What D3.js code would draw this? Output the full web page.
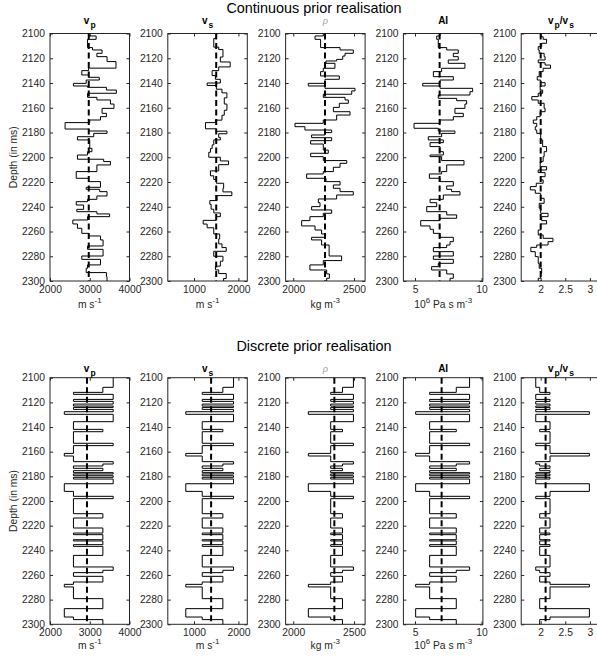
<!DOCTYPE html>
<html>
<head>
<meta charset="utf-8">
<script src="https://cdn.jsdelivr.net/npm/d3@7"></script>
<style>
  body { margin: 0; background: #fff; }
  text { font-family: "Liberation Sans", Arial, sans-serif; }
</style>
</head>
<body>
<div id="chart"></div>
<script>
// ---- continuous realisation: [layer top (ms), value] ----
var contVp = [[2100,2970],[2102,3160],[2104.7,2945],[2111.4,3070],[2113.3,3310],[2116,3180],[2118.7,3435],[2122.7,3660],[2128,2970],[2130,2800],[2133.5,2970],[2135.4,3240],[2137.6,2910],[2140.3,2590],[2142.4,2945],[2143.5,3420],[2145.7,3670],[2148.3,2945],[2151.6,3180],[2153.7,3520],[2157,3610],[2160.5,3310],[2164.5,3420],[2167.2,3270],[2169.9,3000],[2172,2380],[2177.2,2970],[2178.8,3435],[2180.7,3100],[2183.4,2690],[2186,3000],[2192.8,3055],[2195.5,2945],[2198.2,2690],[2201.6,3350],[2203.5,3520],[2206.2,3180],[2211.6,2660],[2217,2970],[2219.7,3270],[2224.3,2910],[2225.9,3250],[2227.8,3435],[2231.3,3180],[2234,2945],[2235.9,2660],[2238.6,2845],[2242.1,2675],[2244,3180],[2245.8,3500],[2248,2945],[2250.7,2575],[2253.9,2690],[2257.4,2800],[2261.5,2970],[2263.6,3270],[2266.8,3335],[2271.7,2945],[2274.4,3335],[2279.8,2800],[2282.5,3270],[2287,2945],[2289.7,2910],[2293.2,3420],[2296.5,3435]];

var contVs = [[2100,1500],[2104,1445],[2111,1556],[2113,1652],[2119,1593],[2123,1815],[2127,1556],[2130,1408],[2134,1482],[2137,1593],[2140,1296],[2142,1504],[2145,1630],[2148,1741],[2152,1682],[2157,1741],[2162,1682],[2166,1630],[2170,1482],[2172,1259],[2177,1504],[2179,1741],[2181,1556],[2184,1593],[2186,1445],[2190,1408],[2193,1370],[2196,1333],[2200,1593],[2203,1778],[2206,1556],[2211,1370],[2215,1445],[2218,1504],[2221,1667],[2225,1652],[2228,1852],[2231,1519],[2235,1356],[2238,1385],[2242,1445],[2245,1593],[2248,1504],[2251,1207],[2254,1296],[2257,1445],[2262,1578],[2266,1556],[2270,1630],[2273,1726],[2276,1445],[2280,1652],[2284,1593],[2288,1482],[2291,1556],[2294,1726],[2298,1667]];

var contRho = [[2100,2247],[2102,2179],[2104.7,2225],[2111.4,2385],[2113.3,2494],[2116,2426],[2118.2,2407],[2120.9,2357],[2122.2,2269],[2124.1,2343],[2128.1,2247],[2130.8,2225],[2134.3,2379],[2137,2261],[2140.3,2124],[2142.4,2261],[2144.3,2508],[2146.4,2481],[2149.1,2247],[2151.6,2426],[2153.7,2453],[2156.4,2379],[2159.7,2330],[2163.2,2467],[2165.9,2357],[2169.9,2247],[2172.6,2014],[2175.3,2096],[2178,2316],[2180.1,2261],[2182,2151],[2184.2,2316],[2186.6,2143],[2189.3,2247],[2194.2,2288],[2196.8,2143],[2199.5,2247],[2202.7,2440],[2204.9,2385],[2208.1,2330],[2211.6,2247],[2213.5,2110],[2217,2269],[2219.7,2385],[2222.4,2330],[2225.1,2385],[2227.8,2494],[2230.5,2357],[2233.7,2206],[2236.7,2220],[2239.9,2151],[2242.6,2316],[2245.3,2247],[2248,2137],[2251.2,2069],[2255.5,2179],[2258.8,2233],[2262,2261],[2264.7,2151],[2266.8,2233],[2270.9,2295],[2279.8,2398],[2283.5,2247],[2287,2137],[2291.1,2275],[2294.3,2297],[2297.8,2275]];

var contAi = [[2100,6.88],[2102,6.63],[2104.7,6.75],[2111.4,7.38],[2113.3,8.25],[2116,7.88],[2118.7,8.25],[2121.4,7.5],[2124.1,8.75],[2128.1,7.0],[2130.8,6.38],[2134.9,7.88],[2137.6,6.88],[2140.3,5.58],[2142.4,6.88],[2144.3,9.33],[2147,9.13],[2149.7,6.75],[2152.4,8.13],[2154.3,8.88],[2157,8.75],[2160.5,8.0],[2164.5,8.63],[2167.2,7.88],[2169.9,6.88],[2172.6,4.93],[2176.6,6.75],[2178.8,8.0],[2180.7,7.0],[2183.4,6.0],[2186,7.13],[2188.2,6.13],[2191.4,6.88],[2195.5,7.13],[2198.2,6.13],[2199.5,7.0],[2202.7,8.68],[2206.2,7.38],[2211.6,7.0],[2213.5,6.08],[2217,6.88],[2219.7,7.88],[2223.2,7.38],[2225.9,7.75],[2227.8,8.38],[2230.5,7.13],[2234,6.13],[2236.7,6.63],[2239.9,5.88],[2244,7.38],[2246.6,8.13],[2249.3,6.88],[2251.2,5.43],[2255.5,6.13],[2258.2,6.38],[2261.5,6.88],[2264.7,7.88],[2268.2,7.63],[2270.9,7.38],[2273,6.38],[2276.3,7.88],[2279.8,6.38],[2282.5,7.88],[2285.7,6.75],[2288.4,6.25],[2291.1,7.38],[2294.3,7.88],[2297.8,7.63]];

var contVpVs = [[2100,2.0],[2102.6,2.05],[2104.7,2.12],[2107.9,2.02],[2110.6,1.95],[2113.3,1.97],[2116,2.07],[2118.7,2.09],[2121.4,1.95],[2123.6,2.09],[2125.5,2.2],[2128.1,2.05],[2130.8,1.97],[2134.9,1.93],[2137.6,2.0],[2139.7,2.09],[2142.4,1.99],[2145.7,2.04],[2148.3,1.95],[2151,1.82],[2153.7,1.95],[2156.4,2.07],[2160.5,2.09],[2163.2,1.99],[2167.2,1.92],[2169.9,1.85],[2172.6,1.92],[2175.3,1.89],[2178,1.92],[2180.7,2.0],[2186,2.04],[2191.4,2.12],[2195.5,2.07],[2199.5,2.05],[2203.5,1.99],[2207.6,2.12],[2210.3,1.95],[2212.4,2.09],[2215.7,2.0],[2218.3,2.05],[2221,1.91],[2223.7,1.79],[2226.4,1.89],[2229.1,2.0],[2233.2,2.07],[2237.2,1.97],[2241.2,2.0],[2245.3,2.15],[2248,2.02],[2251.2,2.12],[2253.9,2.0],[2258.8,1.95],[2262.8,2.05],[2265.5,2.25],[2268.2,2.15],[2270.9,1.92],[2272.8,1.8],[2276.3,1.89],[2280.3,1.95],[2285.7,1.97],[2289.7,2.02],[2293.8,2.0],[2297.8,1.95]];

var contMeans = [2975, 1500, 2261, 6.85, 2.0];

// ---- discrete realisation: layer tops and facies ----
var discTops = [2100,2107.8,2111.9,2113.5,2117.6,2119.2,2121.4,2123.0,2124.1,2125.7,2127.6,2129.7,2135.7,2141.9,2143.8,2153.2,2155.1,2161.4,2163.5,2168.1,2170.0,2171.6,2173.5,2175.4,2177.0,2178.1,2179.5,2180.8,2182.2,2186.0,2192.2,2196.2,2198.1,2210.3,2213.8,2221.9,2226.0,2227.3,2231.4,2232.4,2235.4,2236.8,2244.1,2253.5,2256.2,2258.1,2261.1,2265.7,2267.6,2269.7,2279.2,2287.3,2294.1,2296.2];
var discFacies = ['A','B','C','A','C','A','C','A','C','A','D','A','C','B','C','A','C','D','C','A','B','C','B','C','A','C','A','C','A','D','C','A','C','B','C','B','C','B','C','B','C','B','C','A','B','C','B','C','D','C','B','D','C','B'];

var discVpLevels   = {A: 3590, B: 3330, C: 2590, D: 2360};
var discVsLevels   = {A: 1890, B: 1650, C: 1185, D: 815};
var discRhoLevels  = {A: 2495, B: 2405, C: 2308, D: 2124};
var discAiLevels   = {A: 9.1,  B: 8.1,  C: 6.1,  D: 5.05};
var discVpVsLevels = {A: 1.90, B: 1.98, C: 2.19, D: 2.99};

var discMeans = [2930, 1385, 2338, 7.0, 2.1];

// ---- axes ----
var depthTicks = [2100,2120,2140,2160,2180,2200,2220,2240,2260,2280,2300];
var xDomains = [[2000,4000],[410,2200],[1937,2591],[4.13,10.1],[1.604,3.22]];
var xTicks = [[2000,3000,4000],[1000,2000],[2000,2500],[5,10],[2,2.5,3]];

// ---- build series ----
function discSeries(levels) {
  return discTops.map(function(t, i) { return [t, levels[discFacies[i]]]; });
}
var contSeries = [contVp, contVs, contRho, contAi, contVpVs];
var discSeriesAll = [discVpLevels, discVsLevels, discRhoLevels, discAiLevels, discVpVsLevels].map(discSeries);

var titles = [
  [["v",""],["p","sub"]],
  [["v",""],["s","sub"]],
  [["\u03C1","rho"]],
  [["AI",""]],
  [["v",""],["p","sub"],["/v",""],["s","sub"]]
];
var units = [
  [["m s",""],["-1","sup"]],
  [["m s",""],["-1","sup"]],
  [["kg m",""],["-3","sup"]],
  [["10",""],["6","sup"],[" Pa s m",""],["-3","sup"]],
  []
];

var rows = [
  {sup: "Continuous prior realisation", supY: 13, y0: 33.5, y1: 281, titleY: 23.5, labY: 307.5, data: contSeries, means: contMeans},
  {sup: "Discrete prior realisation", supY: 350.5, y0: 377.7, y1: 624.3, titleY: 371.5, labY: 649, data: discSeriesAll, means: discMeans}
];

var W = 597, H = 659;
var pw = 79.5;
function leftOf(i) { return 50 + i * 117.8; }
var axisCol = "#262626";

var svg = d3.select("#chart").append("svg")
  .attr("width", W)
  .attr("height", H);

function styleAxis(g) {
  g.attr("font-family", "Liberation Sans, Arial, sans-serif")
   .attr("font-size", 10.3)
   .attr("fill", null);
  g.select(".domain").remove();
  g.selectAll(".tick line").attr("stroke", axisCol);
  g.selectAll(".tick text").attr("fill", axisCol);
}

rows.forEach(function(row) {
  svg.append("text")
    .attr("x", 314)
    .attr("y", row.supY)
    .attr("text-anchor", "middle")
    .attr("font-size", 14.4)
    .attr("fill", "#000")
    .text(row.sup);

  var y = d3.scaleLinear().domain([2100, 2300]).range([row.y0, row.y1]);

  // depth label on the first panel
  svg.append("text")
    .attr("transform", "translate(16.5," + ((row.y0 + row.y1) / 2) + ") rotate(-90)")
    .attr("text-anchor", "middle")
    .attr("font-size", 10.3)
    .attr("fill", axisCol)
    .text("Depth (in ms)");

  for (var i = 0; i < 5; i++) {
    var x0 = leftOf(i);
    var x = d3.scaleLinear().domain(xDomains[i]).range([x0, x0 + pw]);
    var g = svg.append("g");

    g.append("g")
      .attr("transform", "translate(" + x0 + ",0)")
      .call(d3.axisLeft(y).tickValues(depthTicks).tickSizeInner(-3).tickSizeOuter(0).tickPadding(5).tickFormat(d3.format("d")))
      .call(styleAxis);
    g.append("g")
      .attr("transform", "translate(" + (x0 + pw) + ",0)")
      .call(d3.axisRight(y).tickValues(depthTicks).tickSizeInner(-3).tickSizeOuter(0).tickFormat(""))
      .call(styleAxis);
    g.append("g")
      .attr("transform", "translate(0," + row.y1 + ")")
      .call(d3.axisBottom(x).tickValues(xTicks[i]).tickSizeInner(-3).tickSizeOuter(0).tickPadding(4.5).tickFormat(d3.format("")))
      .call(styleAxis);
    g.append("g")
      .attr("transform", "translate(0," + row.y0 + ")")
      .call(d3.axisTop(x).tickValues(xTicks[i]).tickSizeInner(-3).tickSizeOuter(0).tickFormat(""))
      .call(styleAxis);

    g.append("rect")
      .attr("x", x0).attr("y", row.y0)
      .attr("width", pw).attr("height", row.y1 - row.y0)
      .attr("fill", "none")
      .attr("stroke", axisCol)
      .attr("stroke-width", 1);

    // step profile
    var series = row.data[i];
    var pts = series.concat([[2300, series[series.length - 1][1]]]);
    var line = d3.line()
      .curve(d3.curveStepBefore)
      .x(function(d) { return x(d[1]); })
      .y(function(d) { return y(d[0]); });
    g.append("path")
      .datum(pts)
      .attr("d", line)
      .attr("fill", "none")
      .attr("stroke", "#000")
      .attr("stroke-width", 1);

    // mean
    g.append("line")
      .attr("x1", x(row.means[i])).attr("x2", x(row.means[i]))
      .attr("y1", row.y0).attr("y2", row.y1)
      .attr("stroke", "#000")
      .attr("stroke-width", 2)
      .attr("stroke-dasharray", "6,3.5");

    // panel title
    var cx = x0 + pw / 2;
    var t = svg.append("text")
      .attr("x", cx)
      .attr("y", row.titleY)
      .attr("text-anchor", "middle")
      .attr("font-weight", "bold")
      .attr("font-size", 10)
      .attr("fill", "#000");
    var shift = 0;
    titles[i].forEach(function(s) {
      var ts = t.append("tspan").text(s[0]);
      if (s[1] === "sub") {
        ts.attr("dy", 4.5 - shift).attr("font-size", 8.5).attr("dx", 1);
        shift = 4.5;
      } else if (s[1] === "rho") {
        ts.attr("font-weight", "normal").attr("font-style", "italic").attr("fill", "#999").attr("font-size", 9);
      } else {
        ts.attr("dy", -shift);
        shift = 0;
      }
    });

    // unit label
    if (units[i].length) {
      var u = svg.append("text")
        .attr("x", cx)
        .attr("y", row.labY)
        .attr("text-anchor", "middle")
        .attr("font-size", 10.3)
        .attr("fill", axisCol);
      var up = 0;
      units[i].forEach(function(s) {
        var ts = u.append("tspan").text(s[0]);
        if (s[1] === "sup") {
          ts.attr("dy", -5 - up).attr("font-size", 8);
          up = -5;
        } else {
          ts.attr("dy", -up);
          up = 0;
        }
      });
    }
  }
});
</script>
</body>
</html>
